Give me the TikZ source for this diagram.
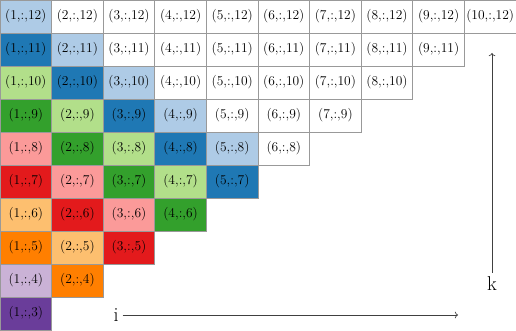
\documentclass[tikz,border=0pt]{standalone}
\usetikzlibrary{arrows.meta}
\definecolor{p0}{HTML}{AECBE6}
\definecolor{p1}{HTML}{1F78B4}
\definecolor{p2}{HTML}{B2DF8A}
\definecolor{p3}{HTML}{33A02C}
\definecolor{p4}{HTML}{FB9A99}
\definecolor{p5}{HTML}{E31A1C}
\definecolor{p6}{HTML}{FDBF6F}
\definecolor{p7}{HTML}{FF7F00}
\definecolor{p8}{HTML}{CAB2D6}
\definecolor{p9}{HTML}{6A3D9A}
\begin{document}
\begin{tikzpicture}[x=1pt,y=1pt,
  cell/.style={draw=black!40, line width=0.8pt, minimum width=51.6pt, minimum height=33pt,
    inner sep=0pt, font=\fontsize{13.5}{16}\selectfont},
  axislabel/.style={inner sep=4pt, font=\fontsize{20}{24}\selectfont},
  axis/.style={draw=black!75, line width=0.7pt, ->}]
\useasboundingbox (0,0) rectangle (516,330);
\foreach \k in {3,...,12}{
  \pgfmathtruncatemacro\imax{\k-2}
  \foreach \i in {1,...,\imax}{
    \pgfmathtruncatemacro\c{13-\k-\i}
    \ifnum\c<0 \def\fc{white}\else \edef\fc{p\c}\fi
    \node[cell, fill=\fc] (c-\i-\k) at ({(\i-0.5)*51.6},{(\k-2.5)*33}) {(\i,:,\k)};
  }
}
\node[axislabel] (ilab) at (116,15) {i};
\coordinate (iend) at (458,15);
\draw[axis] (ilab.east) -- (iend);
\node[axislabel] (klab) at (492,46) {k};
\coordinate (kend) at (492,277);
\draw[axis] (klab.north) -- (kend);
\end{tikzpicture}
\end{document}
